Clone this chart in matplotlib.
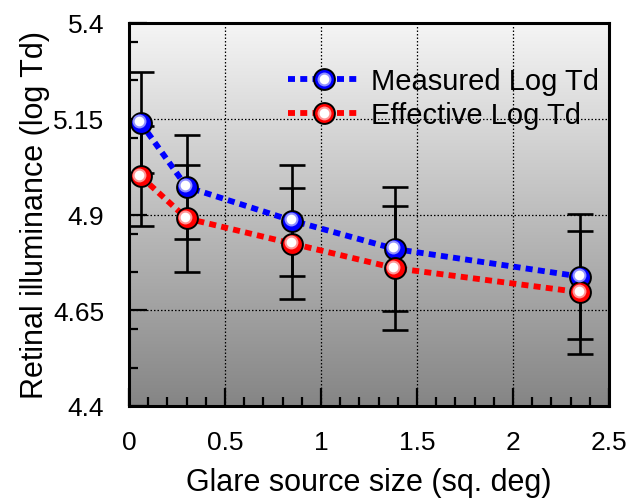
import numpy as np
import matplotlib
matplotlib.use("Agg")
import matplotlib.pyplot as plt
from matplotlib.colors import LinearSegmentedColormap
from matplotlib.lines import Line2D
from matplotlib.legend_handler import HandlerTuple
from matplotlib.ticker import FixedLocator, MultipleLocator
from matplotlib.transforms import ScaledTranslation

plt.rcParams['font.family'] = ['Liberation Sans', 'DejaVu Sans']

# glare source size (sq. deg)
velkost = [0.06, 0.30, 0.85, 1.385, 2.35]
# retinal illuminance, log Td
merane = [5.14, 4.972, 4.884, 4.81, 4.738]
efektivne = [5.00, 4.89, 4.824, 4.76, 4.697]
# error bars
merane_err = [0.132, 0.136, 0.145, 0.163, 0.163]
efektivne_err = [0.13, 0.14, 0.145, 0.161, 0.16]

y_ticky = [4.4, 4.65, 4.9, 5.15, 5.4]
y_popisky = ["4.4", "4.65", "4.9", "5.15", "5.4"]
x_ticky = [0, 0.5, 1, 1.5, 2, 2.5]
x_popisky = ["0", "0.5", "1", "1.5", "2", "2.5"]

fig = plt.figure(figsize=(6.31, 5.02), dpi=100)
ax = fig.add_axes([129 / 631, 1 - 407 / 502, 480 / 631, 383 / 502])
ax.set_xlim(0, 2.5)
ax.set_ylim(4.4, 5.4)

# sivý gradient v pozadí (hore svetlý, dole tmavý)
sivy = LinearSegmentedColormap.from_list("sivy", ["#f5f5f5", "#858585"])
ax.imshow(np.linspace(0, 1, 256).reshape(-1, 1), cmap=sivy, aspect='auto',
          extent=[0, 2.5, 4.4, 5.4], origin='upper', zorder=0, interpolation='bilinear')

ax.grid(True, color='black', linestyle=(0, (1.2, 1.6)), linewidth=0.9)
for gl in ax.get_xgridlines() + ax.get_ygridlines():
    gl.set_zorder(1)

styl = (0, (1.2, 0.9))
ciara = dict(linewidth=4.2, linestyle=styl, dash_capstyle='butt', zorder=2)
ax.plot(velkost, merane, color='#0000ff', **ciara)
ax.plot(velkost, efektivne, color='#ff0000', **ciara)

chyby = dict(fmt='none', ecolor='black', elinewidth=1.9, capsize=9.5, capthick=1.9, zorder=3)
ax.errorbar(velkost, merane, yerr=merane_err, **chyby)
ax.errorbar(velkost, efektivne, yerr=efektivne_err, **chyby)

# guľôčky s odleskom
posun = ScaledTranslation(-1.5 / 100, 1.5 / 100, fig.dpi_scale_trans)
for hodnoty, farba, svetla in [(merane, '#0000ff', '#9090ff'), (efektivne, '#ff0000', '#ff9595')]:
    ax.plot(velkost, hodnoty, 'o', ms=15, mfc=farba, mec='black', mew=1.4, zorder=4)
    ax.plot(velkost, hodnoty, 'o', ms=10, mfc=svetla, mew=0, zorder=5,
            transform=ax.transData + posun)
    ax.plot(velkost, hodnoty, 'o', ms=7, mfc='white', mew=0, zorder=6,
            transform=ax.transData + posun)

# legenda
def polozka(farba, svetla):
    l = Line2D([], [], color=farba, lw=4.2, linestyle=styl, dash_capstyle='butt',
               marker='o', ms=15, mfc=farba, mec='black', mew=1.4)
    s = Line2D([], [], ls='none', marker='o', ms=10, mfc=svetla, mew=0)
    b = Line2D([], [], ls='none', marker='o', ms=7, mfc='white', mew=0)
    return (l, s, b)

ax.legend([polozka('#0000ff', '#9090ff'), polozka('#ff0000', '#ff9595')],
          ["Measured Log Td", "Effective Log Td"],
          handler_map={tuple: HandlerTuple(ndivide=1, pad=0)},
          loc='upper left', bbox_to_anchor=(0.331, 0.885), frameon=False,
          fontsize=21, handlelength=2.5, handletextpad=0.35, labelspacing=0.2,
          borderpad=0, borderaxespad=0)

ax.set_xticks(x_ticky)
ax.set_xticklabels(x_popisky)
ax.set_yticks(y_ticky)
ax.set_yticklabels(y_popisky)
ax.xaxis.set_minor_locator(MultipleLocator(0.1))
ax.yaxis.set_minor_locator(FixedLocator([m + d for m in y_ticky[:-1] for d in (0.1, 0.2)]))
ax.tick_params(which='both', direction='in', width=1.6, labelsize=19, top=False, right=False)
ax.tick_params(which='major', length=13)
ax.tick_params(which='minor', length=6.5)
ax.tick_params(axis='y', which='major', pad=18)
ax.tick_params(axis='x', which='major', pad=17)

for s in ax.spines.values():
    s.set_linewidth(2.2)
    s.set_zorder(7)

ax.set_xlabel("Glare source size (sq. deg)", fontsize=22, labelpad=10)
ax.set_ylabel("Retinal illuminance (log Td)", fontsize=22, labelpad=2)

fig.savefig("out.png", dpi=100)
